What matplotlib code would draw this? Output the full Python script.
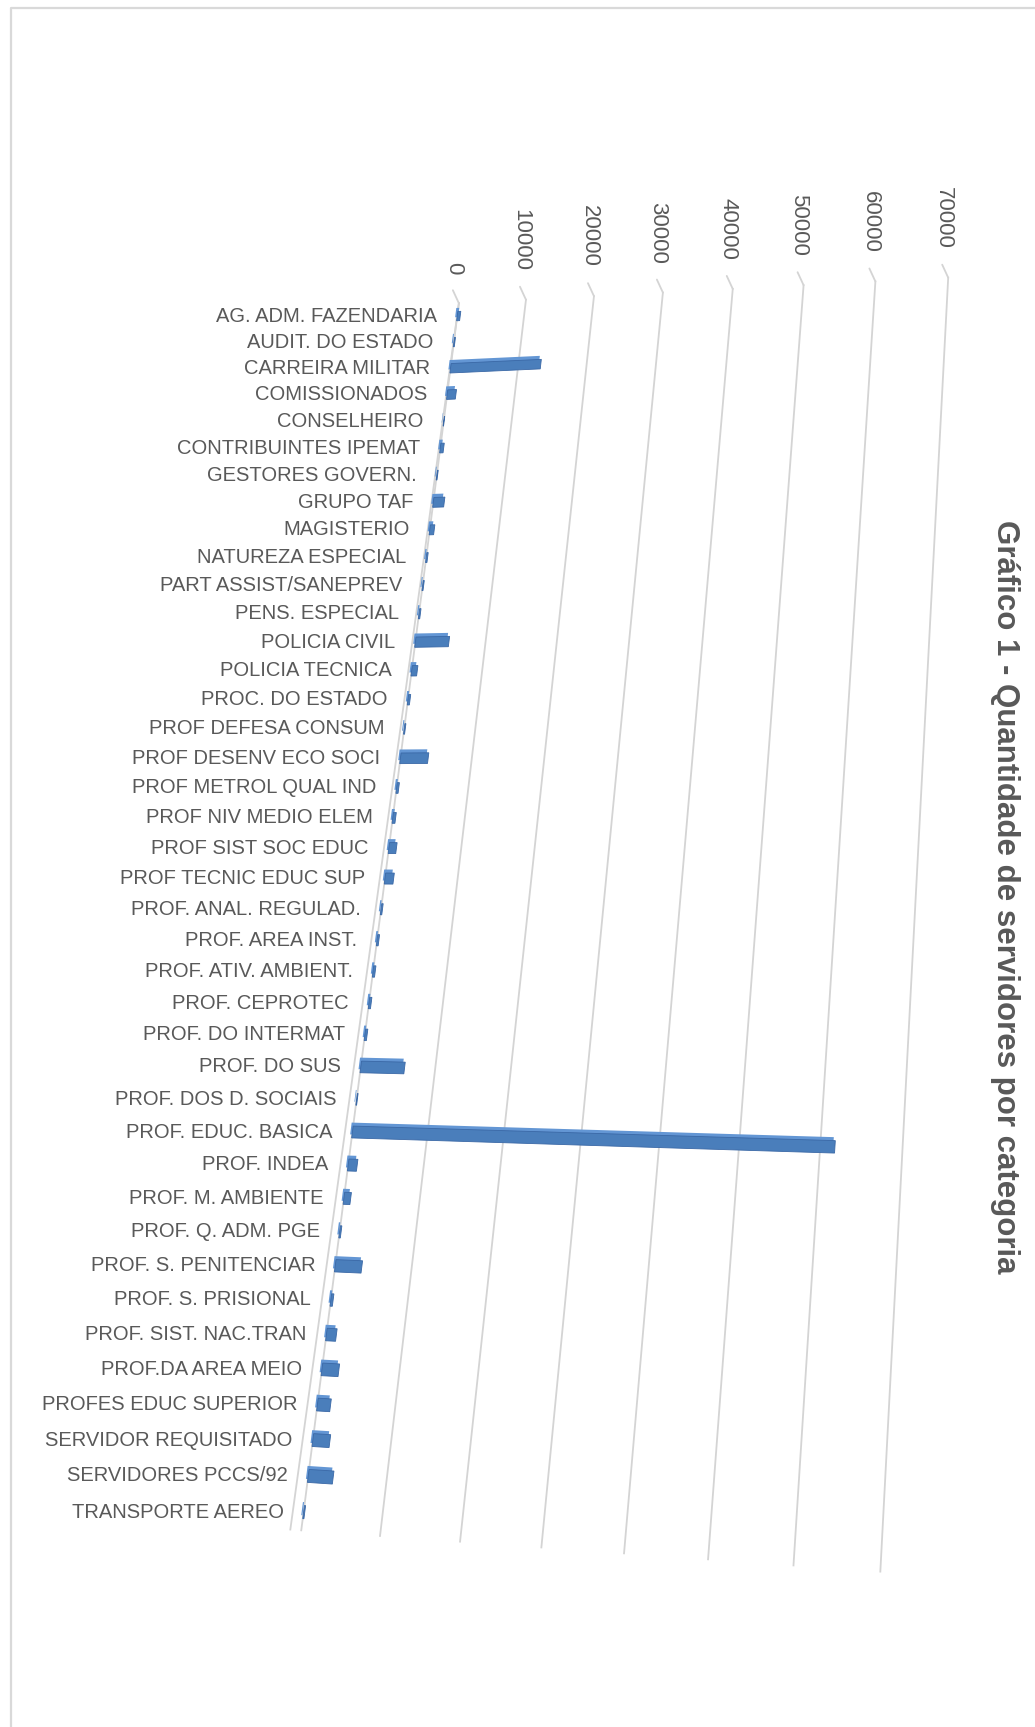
import matplotlib
matplotlib.use("Agg")
import matplotlib.pyplot as plt
import matplotlib.transforms as mtransforms
import numpy as np

categorias = [
    "AG. ADM. FAZENDARIA", "AUDIT. DO ESTADO", "CARREIRA MILITAR", "COMISSIONADOS",
    "CONSELHEIRO", "CONTRIBUINTES IPEMAT", "GESTORES GOVERN.", "GRUPO TAF",
    "MAGISTERIO", "NATUREZA ESPECIAL", "PART ASSIST/SANEPREV", "PENS. ESPECIAL",
    "POLICIA CIVIL", "POLICIA TECNICA", "PROC. DO ESTADO", "PROF DEFESA CONSUM",
    "PROF DESENV ECO SOCI", "PROF METROL QUAL IND", "PROF NIV MEDIO ELEM",
    "PROF SIST SOC EDUC", "PROF TECNIC EDUC SUP", "PROF. ANAL. REGULAD.",
    "PROF. AREA INST.", "PROF. ATIV. AMBIENT.", "PROF. CEPROTEC", "PROF. DO INTERMAT",
    "PROF. DO SUS", "PROF. DOS D. SOCIAIS", "PROF. EDUC. BASICA", "PROF. INDEA",
    "PROF. M. AMBIENTE", "PROF. Q. ADM. PGE", "PROF. S. PENITENCIAR",
    "PROF. S. PRISIONAL", "PROF. SIST. NAC.TRAN", "PROF.DA AREA MEIO",
    "PROFES EDUC SUPERIOR", "SERVIDOR REQUISITADO", "SERVIDORES PCCS/92",
    "TRANSPORTE AEREO",
]
servidores = [
    450, 150, 13300, 1300, 60, 500, 120, 1600, 650, 200,
    150, 200, 4800, 800, 300, 150, 3900, 300, 400, 1050,
    1200, 200, 250, 300, 300, 300, 5900, 100, 61800, 1200,
    900, 200, 3500, 300, 1300, 2200, 1700, 2200, 3200, 150,
]
ticks = [0, 10000, 20000, 30000, 40000, 50000, 60000, 70000]
titulo = "Gráfico 1 - Quantidade de servidores por categoria"

W, H = 1035, 1727
GRID = "#d4d4d4"
TXT = "#595959"

# where the chart floor sits on the canvas: (valor, categoria, x px, y px)
# None = coordinate not used for the fit
floor_ref = [
    (0, -0.5, 457, 303), (10000, -0.5, 526, 303), (20000, -0.5, 593, 299),
    (30000, -0.5, 663, 294), (70000, -0.5, 951, 276),
    (0, 39.5, 303, 1532), (10000, 39.5, 382, 1538), (20000, 39.5, 460, 1543),
    (50000, 39.5, 707, 1558), (60000, 39.5, 792, 1566), (70000, 39.5, 879, 1571),
    (0, 0, None, 313), (0, 12, None, 639), (0, 28, None, 1130), (0, 39, None, 1511),
]


def fit_plane(refs):
    rows, rhs = [], []
    for v, c, x, y in refs:
        v = v / 1e4
        if x is not None:
            rows.append([1, v, c, 0, 0, 0, -x * v, -x * c])
            rhs.append(x)
        if y is not None:
            rows.append([0, 0, 0, 1, v, c, -y * v, -y * c])
            rhs.append(y)
    p = np.linalg.lstsq(np.array(rows, float), np.array(rhs, float), rcond=None)[0]
    a0, a1, a2, b0, b1, b2, c1, c2 = p
    return np.array([[a1 / 1e4, a2, a0], [b1 / 1e4, b2, b0], [c1 / 1e4, c2, 1.0]])


class PlaneProjection(mtransforms.Transform):
    input_dims = output_dims = 2
    has_inverse = True

    def __init__(self, m):
        super().__init__()
        self.m = m

    def transform_non_affine(self, values):
        pts = np.asarray(values, float).reshape(-1, 2)
        hom = np.column_stack([pts, np.ones(len(pts))]) @ self.m.T
        return hom[:, :2] / hom[:, 2:3]

    def inverted(self):
        return PlaneProjection(np.linalg.inv(self.m))


plt.rcParams["font.family"] = ["Liberation Sans", "DejaVu Sans"]

fig = plt.figure(figsize=(W / 100, H / 100), dpi=100)
ax = fig.add_axes([0, 0, 1, 1])
ax.set_xlim(0, W)
ax.set_ylim(H, 0)
ax.axis("off")

plane = PlaneProjection(fit_plane(floor_ref)) + ax.transData
n = len(categorias)
top, bottom = -0.5, n - 0.5

# outer frame of the chart area
ax.plot([11, 11, W], [H, 8, 8], color="#d9d9d9", lw=1.6)

# value gridlines with the short bend onto the back wall
for t in ticks:
    ax.plot([t, t], [top, bottom], transform=plane, color=GRID, lw=1.3, zorder=1)
    ax.annotate("", xy=(t, top), xycoords=plane, xytext=(-6, 13),
                textcoords="offset pixels",
                arrowprops=dict(arrowstyle="-", color=GRID, lw=1.3,
                                shrinkA=0, shrinkB=0))
    ax.annotate(str(t), xy=(t, top), xycoords=plane, xytext=(-5, 29),
                textcoords="offset pixels", rotation=-90, ha="center",
                va="bottom", fontsize=16, color=TXT)

# category axis edge on the floor
ax.plot([0, -1400], [top, bottom], transform=plane, color=GRID, lw=1.3, zorder=1)

# 3D-looking bars: lighter face shifted by the depth, front face on top
linhas = np.arange(n)
depth = mtransforms.Affine2D().translate(-1.5, 3.5)
ax.barh(linhas, servidores, height=0.36, transform=plane + depth,
        color="#6396d4", lw=0, zorder=3)
ax.barh(linhas, servidores, height=0.36, transform=plane,
        color="#4a7ebb", edgecolor="#3a68a6", lw=0.6, zorder=4)

label_trans = mtransforms.offset_copy(plane, fig=fig, x=-20, y=0, units="dots")
for i, nome in enumerate(categorias):
    ax.text(0, i, nome, transform=label_trans, ha="right", va="center",
            fontsize=14.5, color=TXT)

fig.text(1005 / W, 1 - 897 / H, titulo, rotation=-90, ha="center", va="center",
         fontsize=22.5, fontweight="bold", color=TXT)

fig.savefig("out.png", dpi=100, facecolor="white")
